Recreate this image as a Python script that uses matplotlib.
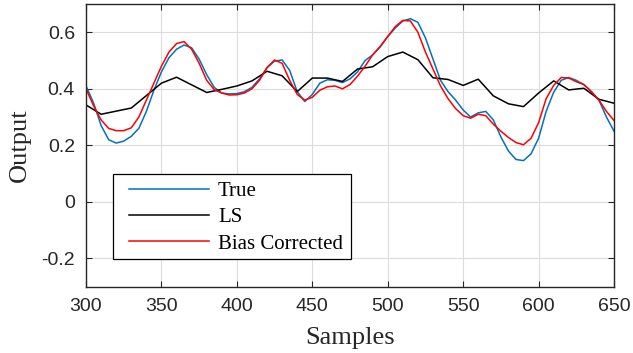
import numpy as np
import matplotlib
matplotlib.use("Agg")
import matplotlib.pyplot as plt
from matplotlib.patches import Rectangle

# samples (every 5) for the smooth curves
samples = list(range(300, 651, 5))
true_vals = [0.41, 0.35, 0.27, 0.22, 0.208, 0.215, 0.232, 0.26, 0.32, 0.395,
             0.46, 0.51, 0.54, 0.555, 0.545, 0.505, 0.45, 0.405, 0.385, 0.382,
             0.383, 0.39, 0.405, 0.435, 0.475, 0.498, 0.502, 0.465, 0.39, 0.355,
             0.38, 0.42, 0.432, 0.43, 0.422, 0.435, 0.46, 0.5, 0.52, 0.548,
             0.585, 0.615, 0.64, 0.648, 0.635, 0.58, 0.505, 0.43, 0.39, 0.36,
             0.325, 0.3, 0.315, 0.32, 0.29, 0.23, 0.18, 0.15, 0.146, 0.17,
             0.225, 0.32, 0.388, 0.43, 0.44, 0.43, 0.415, 0.39, 0.36, 0.3, 0.25]
bias_vals = [0.40, 0.34, 0.29, 0.26, 0.252, 0.252, 0.262, 0.3, 0.36, 0.42,
             0.48, 0.53, 0.56, 0.567, 0.54, 0.49, 0.43, 0.397, 0.385, 0.378,
             0.379, 0.385, 0.4, 0.43, 0.475, 0.502, 0.49, 0.43, 0.38, 0.36,
             0.37, 0.395, 0.407, 0.41, 0.40, 0.415, 0.445, 0.48, 0.52, 0.55,
             0.585, 0.62, 0.642, 0.64, 0.6, 0.53, 0.47, 0.41, 0.365, 0.33,
             0.305, 0.296, 0.31, 0.305, 0.275, 0.25, 0.228, 0.21, 0.202, 0.225,
             0.28, 0.365, 0.412, 0.44, 0.438, 0.425, 0.415, 0.39, 0.36, 0.32, 0.288]

# LS estimate, piecewise every 10 samples
ls_samples = list(range(300, 651, 10))
ls_vals = [0.343, 0.31, 0.321, 0.332, 0.376, 0.42, 0.441, 0.414, 0.387, 0.398,
           0.41, 0.428, 0.462, 0.446, 0.39, 0.438, 0.438, 0.426, 0.47, 0.478,
           0.514, 0.53, 0.503, 0.439, 0.433, 0.412, 0.434, 0.375, 0.347, 0.337,
           0.385, 0.428, 0.396, 0.402, 0.363, 0.349]

xticks = [300, 350, 400, 450, 500, 550, 600, 650]
yticks = [-0.2, 0, 0.2, 0.4, 0.6]
ytick_labels = ["-0.2", "0", "0.2", "0.4", "0.6"]

axis_col = "#262626"
fig = plt.figure(figsize=(6.33, 3.53), dpi=100)
ax = fig.add_axes([0.1359, 0.1878, 0.8341, 0.8009])

ax.plot(samples, true_vals, color="#0072BD", lw=1.1, label="True")
ax.plot(ls_samples, ls_vals, color="black", lw=1.1, label="LS")
ax.plot(samples, bias_vals, color="#FF0000", lw=1.1, label="Bias Corrected")

ax.set_xlim(300, 650)
ax.set_ylim(-0.3, 0.7)
ax.set_xticks(xticks)
ax.set_yticks(yticks)
ax.set_yticklabels(ytick_labels)
ax.grid(True, color="#dcdcdc", lw=0.8)
ax.set_axisbelow(True)
ax.tick_params(direction="in", top=True, right=True, length=4, colors=axis_col,
               labelsize=14, pad=8)
for lab in ax.get_xticklabels() + ax.get_yticklabels():
    lab.set_family("Liberation Sans")
for sp in ax.spines.values():
    sp.set_color(axis_col)
    sp.set_linewidth(1.0)

ax.set_xlabel("Samples", family="Liberation Serif", fontsize=19, color=axis_col, labelpad=9)
ax.set_ylabel("Output", family="Liberation Serif", fontsize=19, color=axis_col, labelpad=7.5)

# legend frame drawn separately so the box matches the original size
ax.add_patch(Rectangle((0.0517, 0.0969), 0.4496, 0.3007, transform=ax.transAxes,
                       facecolor="white", edgecolor="black", lw=0.9, zorder=4))
leg = ax.legend(loc="upper left", bbox_to_anchor=(0.0814, 0.372),
                borderaxespad=0, frameon=False, borderpad=0,
                prop={"family": "Liberation Serif", "size": 15},
                handlelength=3.85, handletextpad=0.42, labelspacing=0.32)
leg.set_zorder(5)

fig.savefig("out.png", dpi=100)
